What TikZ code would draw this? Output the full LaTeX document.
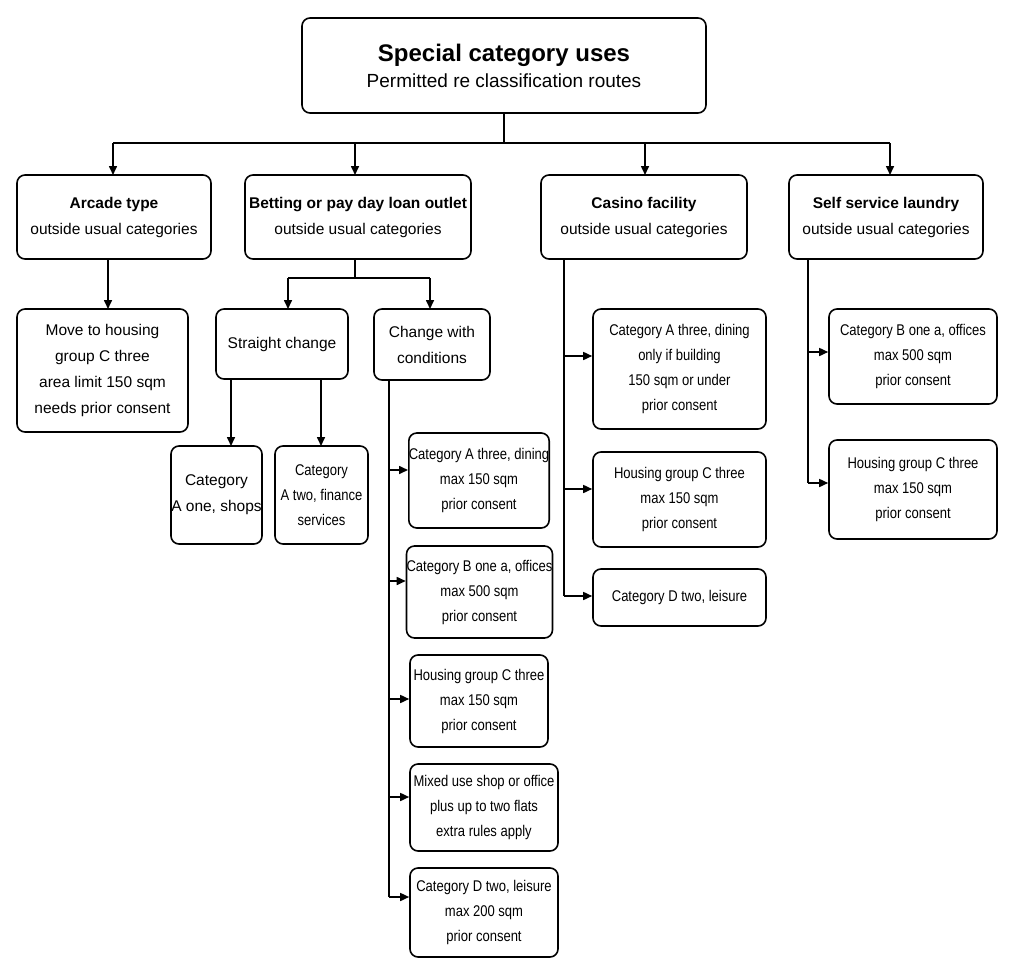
\documentclass[tikz,border=0pt]{standalone}
\usepackage{fontspec}
\setmainfont{Liberation Sans}
\newfontfamily\narrowf[FakeStretch=0.84]{Liberation Sans}
\usetikzlibrary{arrows.meta}
\begin{document}
\begin{tikzpicture}[x=1pt,y=-1pt,
  bx/.style={draw,line width=1.6pt,rounded corners=8pt,align=center,inner sep=0pt,font=\fontsize{15.5}{26}\selectfont},
  nb/.style={bx,font=\narrowf\fontsize{15.5}{25}\selectfont},
  ln/.style={line width=1.6pt},
  ar/.style={ln,-{Triangle[length=9pt,width=8pt]}}]
\useasboundingbox (0,0) rectangle (1014,974);
\newcommand{\bxat}[6]{\node[#1,minimum width=#4-#2,minimum height=#5-#3] (#6) at ({(#2+#4)/2},{(#3+#5)/2})}
\bxat{bx}{302}{18}{706}{113}{title} {{\fontsize{24}{34}\selectfont\bfseries Special category uses}\\{\fontsize{19}{26}\selectfont Permitted re classification routes}};
\bxat{bx}{17}{175}{211}{259}{arc} {\textbf{Arcade type}\\outside usual categories};
\bxat{bx}{245}{175}{471}{259}{bet} {\textbf{Betting or pay day loan outlet}\\outside usual categories};
\bxat{bx}{541}{175}{747}{259}{cas} {\textbf{Casino facility}\\outside usual categories};
\bxat{bx}{789}{175}{983}{259}{lau} {\textbf{Self service laundry}\\outside usual categories};
\bxat{bx}{17}{309}{188}{432}{arc1} {Move to housing\\group C three\\area limit 150 sqm\\needs prior consent};
\bxat{bx}{216}{309}{348}{379}{sc} {Straight change};
\bxat{bx}{374}{309}{490}{380}{cw} {Change with\\conditions};
\bxat{bx}{171}{446}{262}{544}{sc1} {Category\\A one, shops};
\bxat{nb}{275}{446}{368}{544}{sc2} {Category\\A two, finance\\services};
\bxat{nb}{410}{433}{548}{528}{cw1} {Category A three, dining\\max 150 sqm\\prior consent};
\bxat{nb}{410}{546}{549}{638}{cw2} {Category B one a, offices\\max 500 sqm\\prior consent};
\bxat{nb}{410}{655}{548}{747}{cw3} {Housing group C three\\max 150 sqm\\prior consent};
\bxat{nb}{410}{764}{558}{851}{cw4} {Mixed use shop or office\\plus up to two flats\\extra rules apply};
\bxat{nb}{410}{868}{558}{957}{cw5} {Category D two, leisure\\max 200 sqm\\prior consent};
\bxat{nb}{593}{309}{766}{429}{ca1} {Category A three, dining\\only if building\\150 sqm or under\\prior consent};
\bxat{nb}{593}{452}{766}{547}{ca2} {Housing group C three\\max 150 sqm\\prior consent};
\bxat{nb}{593}{569}{766}{626}{ca3} {Category D two, leisure};
\bxat{nb}{829}{309}{997}{404}{la1} {Category B one a, offices\\max 500 sqm\\prior consent};
\bxat{nb}{829}{440}{997}{539}{la2} {Housing group C three\\max 150 sqm\\prior consent};
% top bus
\coordinate (tb) at (504,143);
\draw[ln] (title.south) -- (tb);
\draw[ln] (113,143) -- (890,143);
\draw[ar] (113,143) -- (113,175);
\draw[ar] (355,143) -- (355,175);
\draw[ar] (645,143) -- (645,175);
\draw[ar] (890,143) -- (890,175);
\draw[ar] (108,259) -- (108,309);
\draw[ln] (355,259) -- (355,278);
\draw[ln] (288,278) -- (430,278);
\draw[ar] (288,278) -- (288,309);
\draw[ar] (430,278) -- (430,309);
\draw[ar] (231,379) -- (231,446);
\draw[ar] (321,379) -- (321,446);
\draw[ln] (389,380) -- (389,897);
\foreach \y/\n in {470/cw1,581/cw2,699/cw3,797/cw4,897/cw5}{\draw[ar] (389,\y) -- (\n.west |- 0,\y);}
\draw[ln] (564,259) -- (564,596);
\foreach \y/\n in {356/ca1,489/ca2,596/ca3}{\draw[ar] (564,\y) -- (\n.west |- 0,\y);}
\draw[ln] (808,259) -- (808,483);
\foreach \y/\n in {352/la1,483/la2}{\draw[ar] (808,\y) -- (\n.west |- 0,\y);}
\end{tikzpicture}
\end{document}
